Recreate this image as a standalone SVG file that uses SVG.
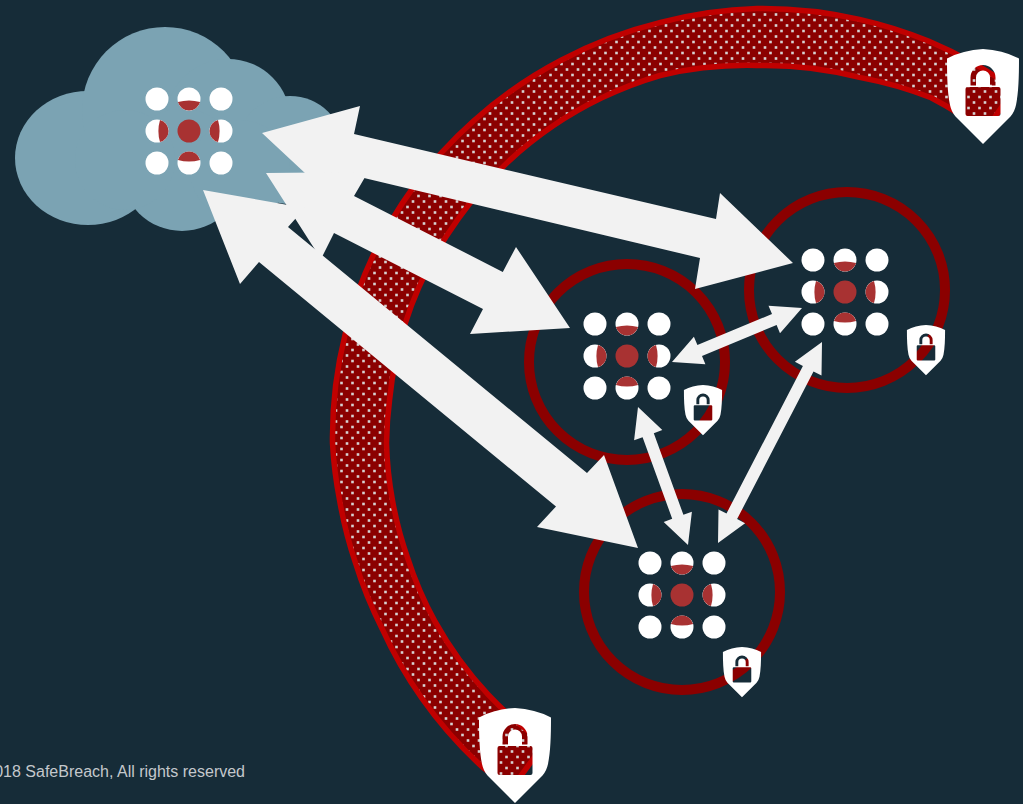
<svg xmlns="http://www.w3.org/2000/svg" xmlns:xlink="http://www.w3.org/1999/xlink" width="1023" height="804" viewBox="0 0 1023 804">
<style>
.ring{fill:none;stroke:#8b0000;stroke-width:10}
.dot{fill:#fff}
.red{fill:#a83232}
.arrow{fill:#f2f2f2}
.shield{fill:#fff;fill-rule:evenodd}
.cloud{fill:#7ba3b3}
.copy{font-family:"Liberation Sans",Arial,sans-serif;font-size:16px;fill:#c4c8cc}
</style>
<defs>
<pattern id="dots" patternUnits="userSpaceOnUse" x="-1" y="0" width="11" height="11">
<rect width="11" height="11" fill="#8b0000"/>
<rect x="0.2" y="7.7" width="2.6" height="2.6" fill="#d6d2d2"/>
<rect x="5.7" y="2.2" width="2.6" height="2.6" fill="#d6d2d2"/>
</pattern>
<path id="seg" class="red" d="M-11.1,-29A40,40 0 0 1 11.1,-29A11.5,11.5 0 0 1 -11.1,-29Z"/>
<g id="grid">
<circle class="dot" cx="-32" cy="-32" r="11.5"/><circle class="dot" cx="0" cy="-32" r="11.5"/><circle class="dot" cx="32" cy="-32" r="11.5"/>
<circle class="dot" cx="-32" cy="0" r="11.5"/><circle class="red" cx="0" cy="0" r="11.5"/><circle class="dot" cx="32" cy="0" r="11.5"/>
<circle class="dot" cx="-32" cy="32" r="11.5"/><circle class="dot" cx="0" cy="32" r="11.5"/><circle class="dot" cx="32" cy="32" r="11.5"/>
<use xlink:href="#seg" href="#seg"/>
<use xlink:href="#seg" href="#seg" transform="rotate(90)"/>
<use xlink:href="#seg" href="#seg" transform="rotate(180)"/>
<use xlink:href="#seg" href="#seg" transform="rotate(270)"/>
</g>
<path id="shield" class="shield" d="M0,0Q20,1 36,9.5C36,28 35.5,44 33,56Q31.5,63 27.5,67.5L0,95L-27.5,67.5Q-31.5,63 -33,56C-35.5,44 -36,28 -36,9.5Q-20,1 0,0Z
M-15.5,38H15.5Q17.5,38 17.5,40V65Q17.5,67 15.5,67H-15.5Q-17.5,67 -17.5,65V40Q-17.5,38 -15.5,38Z
M-12.5,36.5V28.5A12.5,12.5 0 0 1 12.5,28.5V36.5H7V28.5A7,7 0 0 0 -7,28.5V36.5Z"/>
</defs>
<rect width="1023" height="804" fill="#162c38"/>
<g id="band">
<path d="M1014,89A437,437 0 0 0 929,41.3A437,437 0 0 0 859.4,19.4A435,435 0 0 0 757,8.5A433,433 0 0 0 660.6,22.4A431,431 0 0 0 561.1,60.2A430,430 0 0 0 473.5,121A429,429 0 0 0 414.2,186A428,428 0 0 0 345.3,333.6A426,426 0 0 0 332.5,443A423,423 0 0 0 339.5,499.7A420,420 0 0 0 355.3,562.3A418,418 0 0 0 382.2,628.9A420,420 0 0 0 422,698.5A423,423 0 0 0 483.6,768.1L512,788L544.6,743.4A368,368 0 0 1 488.2,694.7A368,368 0 0 1 434.8,621.2A368,368 0 0 1 407.6,557.8A368,368 0 0 1 392.5,500.4A369,369 0 0 1 386.5,443A370,370 0 0 1 389.6,399.7A372,372 0 0 1 458.2,218.9A375,375 0 0 1 508.5,161.4A378,378 0 0 1 601.8,97.8A379,379 0 0 1 660.1,75.5A378,378 0 0 1 757,65.5A378,378 0 0 1 860.7,77.6A382,382 0 0 1 931.1,97.8A386,386 0 0 1 985,131.8Z" fill="url(#dots)" stroke="#c00000" stroke-width="5.5"/>
</g>
<g id="cloud">
<g class="cloud">
<ellipse cx="88" cy="158" rx="73" ry="67"/><circle cx="165" cy="110" r="83"/><circle cx="228" cy="122" r="63"/><circle cx="290" cy="150" r="54"/><circle cx="182" cy="170" r="61"/><circle cx="125" cy="160" r="50"/><circle cx="240" cy="170" r="50"/>
</g>
<use xlink:href="#grid" href="#grid" x="189" y="131"/>
</g>
<g id="node-1">
<circle class="ring" cx="627" cy="362" r="98"/>
<use xlink:href="#grid" href="#grid" x="627" y="356"/>
<use xlink:href="#shield" href="#shield" transform="translate(703,385) scale(.53)"/>
</g>
<g id="node-2">
<circle class="ring" cx="847" cy="290" r="98"/>
<use xlink:href="#grid" href="#grid" x="845" y="292"/>
<use xlink:href="#shield" href="#shield" transform="translate(926,325) scale(.53)"/>
</g>
<g id="node-3">
<circle class="ring" cx="682" cy="592" r="98"/>
<use xlink:href="#grid" href="#grid" x="682" y="595"/>
<use xlink:href="#shield" href="#shield" transform="translate(742,647) scale(.53)"/>
</g>
<g id="lock-top">
<use xlink:href="#shield" href="#shield" transform="translate(983,49)"/>
</g>
<g id="lock-bottom">
<use xlink:href="#shield" href="#shield" transform="translate(515,708)"/>
</g>
<g id="connectors">
<polygon class="arrow" points="262,133 360,106 354,134 716,219 720,193 793,263 695,289 700,258 364,178 342.6,173 335,201"/>
<polygon class="arrow" points="266,173 368,172 354,196 502.8,271.9 516,247 570,328 470,334 483,309 334,233 321,259"/>
<polygon class="arrow" points="203,190 305,208 288,227 587,473 604,455 638,548 537,527 556,506.5 259,262 240,284"/>
<polygon class="arrow" points="672,362 693.9,336.7 697.4,345 772,314 768.5,305.7 802,308 780,333.3 776.6,325 702,356 705.4,364.3"/>
<polygon class="arrow" points="822,342 821.5,375.6 813.5,371.5 737.1,519.1 745.1,523.2 718,543 718.5,509.4 726.5,513.5 802.9,365.9 794.9,361.8"/>
<polygon class="arrow" points="638,407 662.3,430.1 653.8,433.2 683.4,514.8 691.9,511.7 688,545 663.7,521.9 672.2,518.8 642.6,437.2 634.1,440.3"/>
</g>
<text class="copy" x="245" y="777" text-anchor="end">© 2018 SafeBreach, All rights reserved</text>
</svg>
